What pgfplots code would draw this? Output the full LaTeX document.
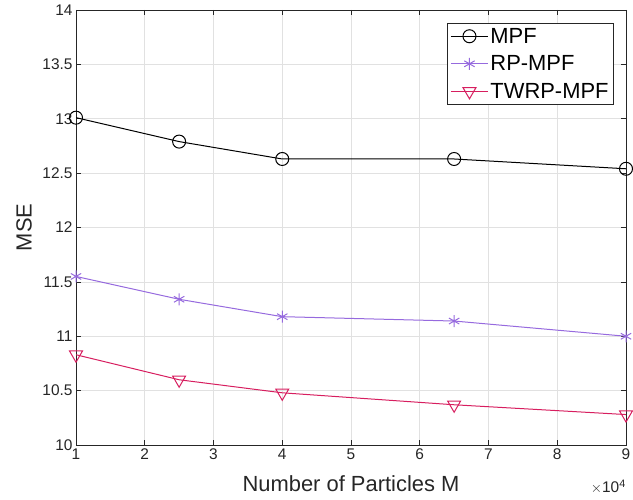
\documentclass[border=0pt]{standalone}
\usepackage{pgfplots}
\pgfplotsset{compat=1.18}
\usepackage{fontspec}
\setmainfont{Liberation Sans}
\definecolor{rpcol}{RGB}{150,106,222}
\definecolor{twcol}{RGB}{215,30,95}
\definecolor{gridcol}{RGB}{225,225,225}
\definecolor{axcol}{RGB}{38,38,38}

\begin{document}
\begin{tikzpicture}
\begin{axis}[
    scale only axis,
    width=550bp, height=435bp,
    xmin=1, xmax=9, ymin=10, ymax=14,
    xtick={1,2,...,9},
    ytick={10,10.5,...,14},
    yticklabel style={/pgf/number format/fixed},
    /pgf/number format/assume math mode=true,
    grid=major,
    major grid style={gridcol, line width=0.6bp},
    axis line style={axcol, line width=0.7bp},
    tick style={axcol, line width=0.7bp},
    tick align=inside,
    major tick length=5bp,
    ticklabel style={font=\fontsize{15.5}{17}\selectfont, text=axcol},
    xlabel={Number of Particles M},
    ylabel={MSE},
    label style={font=\fontsize{22}{24}\selectfont, text=axcol},
    xlabel style={at={([yshift=-39bp]rel axis cs:0.5,0)}, anchor=center},
    ylabel style={at={([xshift=-52bp]rel axis cs:0,0.5)}, anchor=center},
    legend style={at={(rel axis cs:0.978,0.971)}, anchor=north east,
      font=\fontsize{22}{24}\selectfont, draw=axcol, line width=0.7bp,
      inner sep=3bp, row sep=7bp},
    legend cell align=left,
    legend image code/.code={
      \draw[mark repeat=2, mark phase=2, line width=1bp]
        plot coordinates {(0bp,0bp) (18.5bp,0bp) (37bp,0bp)};},
]
\addplot[black, line width=1bp, mark=o, mark size=6.5bp, mark options={line width=1bp}]
  coordinates {(1,13.01) (2.5,12.79) (4,12.63) (6.5,12.63) (9,12.54)};
\addplot[rpcol, line width=1bp, mark=asterisk, mark size=6bp, mark options={line width=1bp}]
  coordinates {(1,11.55) (2.5,11.34) (4,11.18) (6.5,11.14) (9,11.00)};
\addplot[twcol, line width=1bp, mark=triangle, mark size=7.5bp, mark options={rotate=180, line width=1bp}]
  coordinates {(1,10.83) (2.5,10.60) (4,10.48) (6.5,10.37) (9,10.28)};
\legend{MPF, RP-MPF, TWRP-MPF}
\coordinate (bl) at (rel axis cs:0,0);
\coordinate (br) at (rel axis cs:1,0);
\coordinate (tr) at (rel axis cs:1,1);
\end{axis}
\node[anchor=east, font=\fontsize{15.5}{17}\selectfont, text=axcol, inner sep=0pt]
  at ([yshift=-42bp]br) {$\times\mathrm{10^{4}}$};
\pgfresetboundingbox
\path[use as bounding box] ([shift={(-76bp,-54bp)}]bl) rectangle ([shift={(7bp,10bp)}]tr);
\end{tikzpicture}
\end{document}
